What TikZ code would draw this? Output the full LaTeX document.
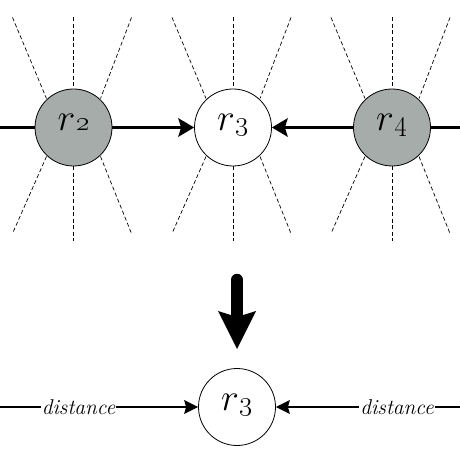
\RequirePackage{fix-cm}
\documentclass[tikz,border=0pt]{standalone}
\usetikzlibrary{arrows.meta,calc}
\definecolor{nodegray}{RGB}{166,172,170}
\newcommand{\rlab}[1]{{\fontsize{38}{38}\selectfont$r$\kern1bp\fontsize{28}{28}\selectfont\oldstylenums{#1}}}
\tikzset{
  robot/.style={circle,draw=black,line width=0.8bp,minimum size=77bp,inner sep=0pt,text height=14bp,text depth=7bp},
  grayrobot/.style={robot,fill=nodegray},
  whiterobot/.style={robot,fill=white},
  ray/.style={dashed,dash pattern=on 4bp off 2.5bp,line width=0.7bp},
  thickarrow/.style={line width=3.2bp},
  thinarrow/.style={line width=1.3bp},
  distlabel/.style={inner sep=1bp,font=\fontsize{21.5}{21.5}\selectfont\itshape},
  bigarrow/.style={line width=12.5bp,line cap=round,-{Stealth[length=38bp,width=38bp,inset=6bp,line width=0pt]}}
}
\begin{document}
\begin{tikzpicture}[x=1bp,y=-1bp]
\useasboundingbox (0,0) rectangle (460,460);
% dashed rays
\foreach \cx in {73.5,233,392}{
  \begin{scope}[shift={(\cx,127.5)}]
    \draw[ray] (-61,-110) -- (-27,-29);
    \draw[ray] (0,-110) -- (0,-39);
    \draw[ray] (58,-110) -- (27,-29);
    \draw[ray] (-27,29) -- (-61,106);
    \draw[ray] (0,39) -- (0,113);
    \draw[ray] (27,29) -- (58,106);
  \end{scope}
}
% top row
\node[grayrobot] (r2) at (73.5,127.5) {\rlab{2}};
\node[whiterobot] (r3) at (233,127.5) {\rlab{3}};
\node[grayrobot] (r4) at (392,127.5) {\rlab{4}};
\coordinate (lt) at (0,127.5);
\coordinate (rt) at (460,127.5);
\draw[thickarrow] (lt) -- (r2);
\draw[thickarrow,-{Stealth[length=16bp,width=19bp,inset=3bp,line width=0pt]}] (r2) -- (r3);
\draw[thickarrow,-{Stealth[length=16bp,width=19bp,inset=3bp,line width=0pt]}] (r4) -- (r3);
\draw[thickarrow] (r4) -- (rt);
% big arrow
\coordinate (bs) at (237,280);
\coordinate (be) at (237,349);
\draw[bigarrow] (bs) -- (be);
% bottom row
\node[whiterobot] (b3) at (237,407) {\rlab{3}};
\node[distlabel] (dl) at (78.5,407) {distance};
\node[distlabel] (dr) at (397,407) {distance};
\coordinate (lb) at (0,407);
\coordinate (rb) at (460,407);
\draw[thinarrow] (lb) -- (dl);
\draw[thinarrow,-{Stealth[length=14bp,width=14bp,inset=2bp,line width=0pt]}] (dl) -- (b3);
\draw[thinarrow,-{Stealth[length=14bp,width=14bp,inset=2bp,line width=0pt]}] (dr) -- (b3);
\draw[thinarrow] (dr) -- (rb);
\end{tikzpicture}
\end{document}
